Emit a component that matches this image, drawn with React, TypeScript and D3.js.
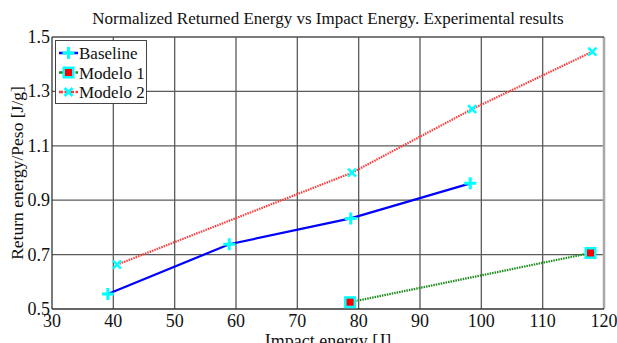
import React, { useEffect, useRef } from "react";
import * as d3 from "d3";

const xTicks = [30, 40, 50, 60, 70, 80, 90, 100, 110, 120];
const yTicks = [0.5, 0.7, 0.9, 1.1, 1.3, 1.5];

const baselineX = [39.1, 58.9, 78.7, 98.2];
const baselineY = [0.555, 0.738, 0.833, 0.962];
const modelo1X = [78.6, 117.8];
const modelo1Y = [0.525, 0.706];
const modelo2X = [40.6, 78.9, 98.5, 118.1];
const modelo2Y = [0.663, 1.001, 1.235, 1.446];

const W = 617;
const H = 343;
const FONT = "'Liberation Serif', 'Times New Roman', serif";

const App: React.FC = () => {
  const svgRef = useRef<SVGSVGElement | null>(null);

  useEffect(() => {
    if (!svgRef.current) return;
    const svg = d3.select(svgRef.current);
    svg.selectAll("*").remove();

    const margin = { top: 37, right: 13, bottom: 34, left: 52 };
    const x = d3.scaleLinear().domain([30, 120]).range([margin.left, W - margin.right]);
    const y = d3.scaleLinear().domain([0.5, 1.5]).range([H - margin.bottom, margin.top]);

    const g = svg.append("g");

    // grid
    g.selectAll(".vg")
      .data(xTicks.slice(1, -1))
      .enter()
      .append("line")
      .attr("x1", (d) => x(d))
      .attr("x2", (d) => x(d))
      .attr("y1", y(0.5))
      .attr("y2", y(1.5))
      .attr("stroke", "#5a5a5a")
      .attr("stroke-width", 1.3);
    g.selectAll(".hg")
      .data(yTicks.slice(1, -1))
      .enter()
      .append("line")
      .attr("x1", x(30))
      .attr("x2", x(120))
      .attr("y1", (d) => y(d))
      .attr("y2", (d) => y(d))
      .attr("stroke", "#5a5a5a")
      .attr("stroke-width", 1.3);

    // frame
    g.append("line")
      .attr("x1", x(120)).attr("x2", x(120))
      .attr("y1", y(1.5)).attr("y2", y(0.5))
      .attr("stroke", "#a8a8a8").attr("stroke-width", 2.5);
    g.append("line")
      .attr("x1", x(30)).attr("x2", x(120))
      .attr("y1", y(1.5)).attr("y2", y(1.5))
      .attr("stroke", "#505050").attr("stroke-width", 1.3);
    g.append("line")
      .attr("x1", x(30)).attr("x2", x(30))
      .attr("y1", y(1.5)).attr("y2", y(0.5))
      .attr("stroke", "#333").attr("stroke-width", 1.3);
    g.append("line")
      .attr("x1", x(30)).attr("x2", x(120))
      .attr("y1", y(0.5)).attr("y2", y(0.5))
      .attr("stroke", "#333").attr("stroke-width", 1.3);

    // tick labels
    g.selectAll(".xt")
      .data(xTicks)
      .enter()
      .append("text")
      .attr("x", (d) => x(d))
      .attr("y", y(0.5) + 18)
      .attr("text-anchor", "middle")
      .style("font-family", FONT)
      .style("font-size", "18px")
      .attr("fill", "#111")
      .text((d) => d);
    g.selectAll(".yt")
      .data(yTicks)
      .enter()
      .append("text")
      .attr("x", x(30) - 2)
      .attr("y", (d) => y(d) + 6)
      .attr("text-anchor", "end")
      .style("font-family", FONT)
      .style("font-size", "18px")
      .attr("fill", "#111")
      .text((d) => d.toFixed(1));

    // titles
    svg.append("text")
      .attr("x", (x(30) + x(120)) / 2)
      .attr("y", 24)
      .attr("text-anchor", "middle")
      .style("font-family", FONT)
      .style("font-size", "17px")
      .attr("fill", "#111")
      .text("Normalized Returned Energy vs Impact Energy. Experimental results");
    svg.append("text")
      .attr("x", (x(30) + x(120)) / 2)
      .attr("y", H + 4)
      .attr("text-anchor", "middle")
      .style("font-family", FONT)
      .style("font-size", "18px")
      .attr("fill", "#111")
      .text("Impact energy [J]");
    svg.append("text")
      .attr("transform", `translate(23,${(y(0.5) + y(1.5)) / 2}) rotate(-90)`)
      .attr("text-anchor", "middle")
      .style("font-family", FONT)
      .style("font-size", "17.5px")
      .attr("fill", "#111")
      .text("Return energy/Peso [J/g]");

    const line = d3.line<[number, number]>().x((d) => x(d[0])).y((d) => y(d[1]));

    const drawPlus = (sel: any, cx: number, cy: number) => {
      sel.append("path")
        .attr("d", `M${cx - 6},${cy}H${cx + 6}M${cx},${cy - 6}V${cy + 6}`)
        .attr("stroke", "#00ffff")
        .attr("stroke-width", 3)
        .attr("fill", "none");
    };
    const drawSquare = (sel: any, cx: number, cy: number) => {
      sel.append("rect")
        .attr("x", cx - 6).attr("y", cy - 6)
        .attr("width", 12).attr("height", 12)
        .attr("fill", "#00ffff");
      sel.append("rect")
        .attr("x", cx - 3.5).attr("y", cy - 3.5)
        .attr("width", 7).attr("height", 7)
        .attr("fill", "#ff0000");
    };
    const drawX = (sel: any, cx: number, cy: number) => {
      sel.append("path")
        .attr("d", `M${cx - 4},${cy - 4}L${cx + 4},${cy + 4}M${cx - 4},${cy + 4}L${cx + 4},${cy - 4}`)
        .attr("stroke", "#00ffff")
        .attr("stroke-width", 2.5)
        .attr("fill", "none");
    };

    const series = [
      { name: "Baseline", xs: baselineX, ys: baselineY, color: "#0000ff", dash: null, marker: drawPlus },
      { name: "Modelo 1", xs: modelo1X, ys: modelo1Y, color: "#1a8c1a", dash: "1.5,1", marker: drawSquare },
      { name: "Modelo 2", xs: modelo2X, ys: modelo2Y, color: "#ff3b3b", dash: "1.5,1", marker: drawX },
    ];

    series.forEach((s) => {
      const pts: [number, number][] = s.xs.map((v, i) => [v, s.ys[i]]);
      const p = g.append("path")
        .attr("d", line(pts))
        .attr("fill", "none")
        .attr("stroke", s.color)
        .attr("stroke-width", 2.2);
      if (s.dash) p.attr("stroke-dasharray", s.dash);
      pts.forEach((d) => s.marker(g, x(d[0]), y(d[1])));
    });

    // legend
    const lg = svg.append("g");
    lg.append("rect")
      .attr("x", 55.5).attr("y", 40.5)
      .attr("width", 91).attr("height", 63)
      .attr("fill", "#fff")
      .attr("stroke", "#444")
      .attr("stroke-width", 1);
    series.forEach((s, i) => {
      const cy = 53 + i * 19.5;
      const l = lg.append("line")
        .attr("x1", 59).attr("x2", 78)
        .attr("y1", cy).attr("y2", cy)
        .attr("stroke", s.color)
        .attr("stroke-width", 2.5);
      if (s.dash) l.attr("stroke-dasharray", "4,1.5");
      s.marker(lg, 68.5, cy);
      lg.append("text")
        .attr("x", 79)
        .attr("y", cy + 6)
        .style("font-family", FONT)
        .style("font-size", "17px")
        .attr("fill", "#111")
        .text(s.name);
    });
  }, []);

  return (
    <svg
      ref={svgRef}
      width={W}
      height={H}
      style={{ position: "absolute", left: 0, top: 0, background: "#fff" }}
    ></svg>
  );
};

export default App;
